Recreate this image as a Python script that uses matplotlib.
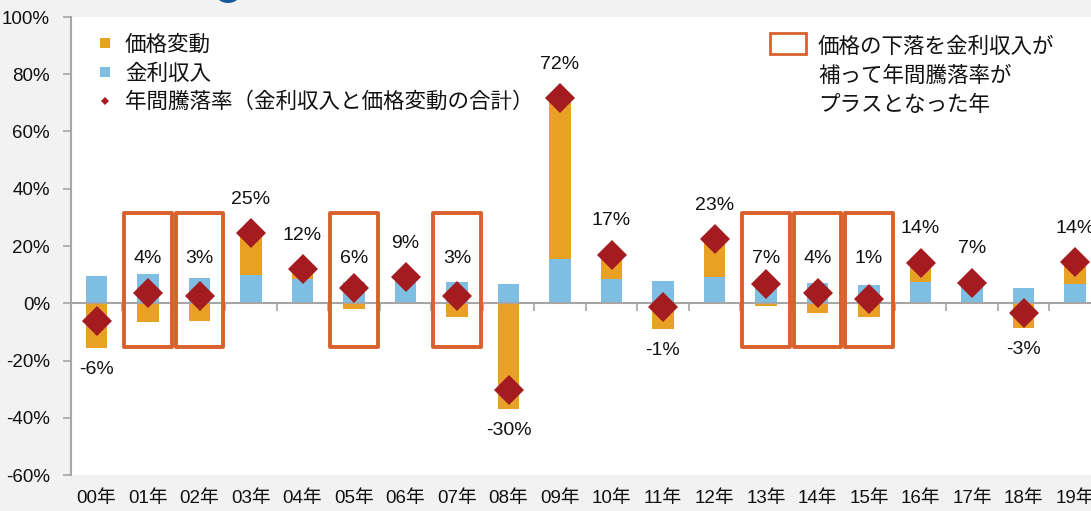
import numpy as np
import matplotlib
matplotlib.use("Agg")
import matplotlib.pyplot as plt
import matplotlib.transforms as mtransforms
from matplotlib.patches import Rectangle, Ellipse
from matplotlib.lines import Line2D

plt.rcParams['font.family'] = ['Liberation Sans', 'Noto Sans CJK JP', 'DejaVu Sans']

# ---------------- data ----------------
years = ["00年", "01年", "02年", "03年", "04年", "05年", "06年", "07年", "08年", "09年",
         "10年", "11年", "12年", "13年", "14年", "15年", "16年", "17年", "18年", "19年"]
interest = [9.4, 10.2, 8.7, 10.0, 8.5, 7.5, 8.6, 7.3, 6.6, 15.4,
            8.6, 7.6, 9.3, 7.5, 6.9, 6.3, 7.3, 7.0, 5.3, 6.6]
price = [-15.7, -6.6, -6.1, 14.5, 3.5, -2.0, 0.6, -4.8, -36.8, 56.3,
         8.4, -8.9, 13.2, -0.9, -3.3, -4.9, 6.9, 0.2, -8.8, 7.8]
total = [-6.3, 3.6, 2.6, 24.5, 12.0, 5.5, 9.2, 2.5, -30.2, 71.7,
         17.0, -1.3, 22.5, 6.6, 3.6, 1.4, 14.2, 7.2, -3.5, 14.4]
total_labels = ["-6%", "4%", "3%", "25%", "12%", "6%", "9%", "3%", "-30%", "72%",
                "17%", "-1%", "23%", "7%", "4%", "1%", "14%", "7%", "-3%", "14%"]
yticks = [-60, -40, -20, 0, 20, 40, 60, 80, 100]
ytick_labels = ["-60%", "-40%", "-20%", "0%", "20%", "40%", "60%", "80%", "100%"]
legend_labels = ["価格変動", "金利収入", "年間騰落率（金利収入と価格変動の合計）"]
box_note = "価格の下落を金利収入が\n補って年間騰落率が\nプラスとなった年"

# ---------------- style ----------------
C_ORANGE = "#E9A125"
C_BLUE = "#7FBEE3"
C_RED = "#A51C20"
C_BOX = "#D9612B"
C_AXIS = "#A6A6A6"
BG = "#F2F2F2"
TXT = "#111111"

W, H = 1091, 511
fig = plt.figure(figsize=(W / 100, H / 100), dpi=100, facecolor=BG)
ax = fig.add_axes([70.75 / W, (H - 475) / H, 1030 / W, (475 - 17) / H])
ax.set_facecolor("white")

x = np.arange(len(years))
interest_a = np.array(interest)
price_a = np.array(price)
total_a = np.array(total)
bw = 0.42

ax.bar(x, interest_a, width=bw, color=C_BLUE, zorder=2)
price_bottom = np.where(price_a >= 0, interest_a, 0)
ax.bar(x, price_a, width=bw, bottom=price_bottom, color=C_ORANGE, zorder=2)
ax.plot(x, total_a, linestyle="none", marker="D", markersize=15,
        color=C_RED, markeredgewidth=0, zorder=5)

# highlight boxes: years where price fell but total return was positive
boxed = (price_a < 0) & (total_a > 0)
for i in x[boxed]:
    r = Rectangle((i - 0.46, -15.2), 0.92, 46.7, fill=False, edgecolor=C_BOX,
                  linewidth=2.8, joinstyle="round", zorder=4)
    ax.add_patch(r)

# data labels
for i in x:
    if boxed[i]:
        yl = 15.7
    elif total_a[i] >= 0:
        yl = max(total_a[i], interest_a[i] + max(price_a[i], 0)) + 11.8
    else:
        yl = min(price_a[i], 0) - 7.5
    ax.text(i, yl, total_labels[i], ha="center", va="center", fontsize=14,
            color=TXT, zorder=6)

ax.set_xlim(-0.5, len(years) - 0.5)
ax.set_ylim(-60, 100)
ax.set_yticks(yticks)
ax.set_yticklabels(ytick_labels)
ax.tick_params(axis="y", direction="out", length=6, width=1.2, color=C_AXIS,
               labelsize=13.5, pad=9, labelcolor=TXT)

for s in ["top", "right"]:
    ax.spines[s].set_visible(False)
ax.spines["left"].set_color(C_AXIS)
ax.spines["left"].set_linewidth(1.5)
ax.spines["bottom"].set_position(("data", 0))
ax.spines["bottom"].set_color(C_AXIS)
ax.spines["bottom"].set_linewidth(1.5)
ax.spines["bottom"].set_zorder(3)
ax.set_xticks(x[:-1] + 0.5)
ax.set_xticklabels([])
ax.tick_params(axis="x", direction="out", length=6, width=1.2, color=C_AXIS)

# category labels at the bottom
trans = mtransforms.blended_transform_factory(ax.transData, fig.transFigure)
for i, lab in enumerate(years):
    ax.text(i, 1 - 498 / H, lab, transform=trans, ha="center", va="center",
            fontsize=13.5, color=TXT, clip_on=False)

# legend (left)
handles = [
    Line2D([], [], linestyle="none", marker="s", markersize=6.5, color=C_ORANGE, markeredgewidth=0),
    Line2D([], [], linestyle="none", marker="s", markersize=6.5, color=C_BLUE, markeredgewidth=0),
    Line2D([], [], linestyle="none", marker="D", markersize=4, color=C_RED, markeredgewidth=0),
]
leg = ax.legend(handles, legend_labels, loc="upper left",
                bbox_to_anchor=(94 / W, 1 - 35 / H), bbox_transform=fig.transFigure,
                frameon=False, fontsize=15.5, handlelength=1.0, handletextpad=0.43,
                borderaxespad=0, borderpad=0, labelspacing=0.35)
for t in leg.get_texts():
    t.set_color(TXT)

# legend (right) for highlight boxes
fig.patches.append(Rectangle((770 / W, 1 - 54 / H), 36 / W, 21 / H, transform=fig.transFigure,
                             facecolor="white", edgecolor=C_BOX, linewidth=2))
fig.text(818 / W, 1 - 37 / H, box_note, ha="left", va="top", fontsize=15.5,
         linespacing=1.5, color=TXT)

# decorative circle at top
fig.patches.append(Ellipse((228 / W, 1 + 12 / H), 30 / W, 30 / H, transform=fig.transFigure,
                           facecolor="#165A99", edgecolor="none"))

fig.savefig("out.png", dpi=100, facecolor=BG)
